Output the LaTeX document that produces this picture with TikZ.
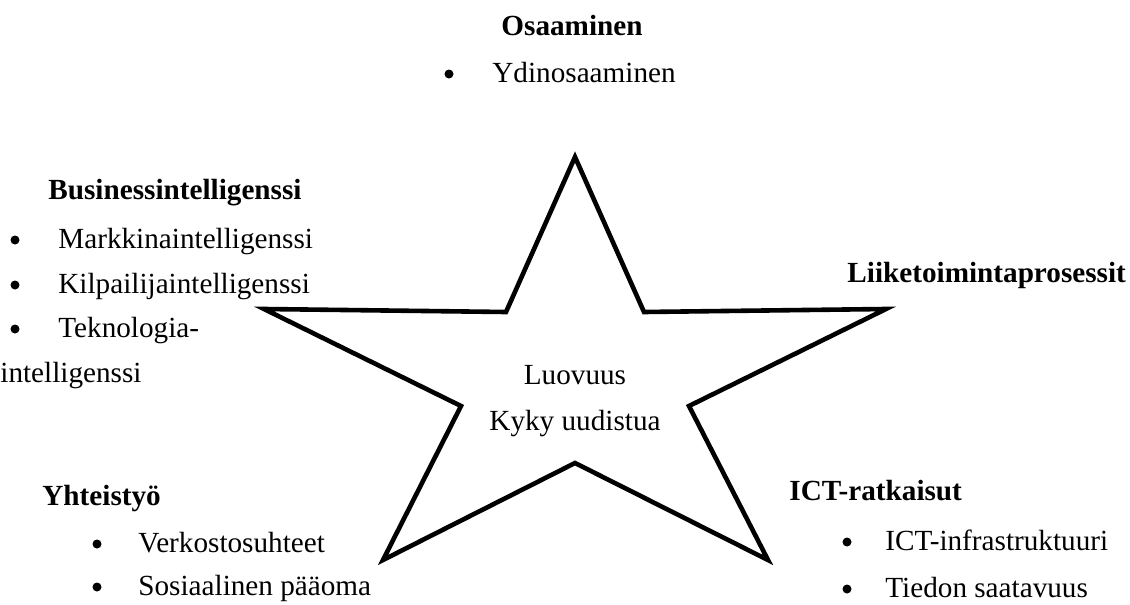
\documentclass[tikz,border=0pt]{standalone}
\usepackage{fontspec}
\setmainfont{Liberation Serif}
\begin{document}
\begin{tikzpicture}[x=0.5pt,y=-0.5pt,
  lbl/.style={inner sep=0pt, font=\fontsize{14.6pt}{17pt}\selectfont},
  head/.style={inner sep=0pt, font=\fontsize{14.6pt}{17pt}\selectfont\bfseries},
  dot/.style={circle, fill=black, inner sep=0pt, minimum size=4.5pt},
  starline/.style={draw=black, line width=2.3pt, line join=miter}]
\useasboundingbox (0,0) rectangle (1130,605);

% five-pointed star
\draw[starline] (575,157) -- (644,312) -- (886,309) -- (689,406) -- (768,560)
  -- (575,463) -- (383,560) -- (461,406) -- (264,309) -- (506,312) -- cycle;

% centre text
\node[lbl, anchor=base] (luovuus) at (575,384) {Luovuus};
\node[lbl, anchor=base] (kyky) at (575,430) {Kyky uudistua};

% top group
\node[head, anchor=base] (osaaminen) at (572,35) {Osaaminen};
\node[dot] (b0) at (449,74) {};
\node[lbl, anchor=base west] (ydin) at (492,82) {Ydinosaaminen};

% left group
\node[head, anchor=base west] (bi) at (48,199) {Businessintelligenssi};
\node[dot] (b1) at (15,240) {};
\node[lbl, anchor=base west] (mi) at (58,248) {Markkinaintelligenssi};
\node[dot] (b2) at (15,285) {};
\node[lbl, anchor=base west] (ki) at (58,293) {Kilpailijaintelligenssi};
\node[dot] (b3) at (15,329) {};
\node[lbl, anchor=base west] (tek) at (58,337) {Teknologia-};
\node[lbl, anchor=base west] (tek2) at (0,382) {intelligenssi};

% right group
\node[head, anchor=base west] (lp) at (847,282) {Liiketoimintaprosessit};

% lower left group
\node[head, anchor=base west] (yht) at (42,505) {Yhteistyö};
\node[dot] (b4) at (97,544) {};
\node[lbl, anchor=base west] (verk) at (138,552) {Verkostosuhteet};
\node[dot] (b5) at (97,587) {};
\node[lbl, anchor=base west] (sos) at (138,595) {Sosiaalinen pääoma};

% lower right group
\node[head, anchor=base west] (ict) at (789,500) {ICT-ratkaisut};
\node[dot] (b6) at (847,542) {};
\node[lbl, anchor=base west] (infra) at (885,550) {ICT-infrastruktuuri};
\node[dot] (b7) at (847,589) {};
\node[lbl, anchor=base west] (tied) at (885,597) {Tiedon saatavuus};
\end{tikzpicture}
\end{document}
